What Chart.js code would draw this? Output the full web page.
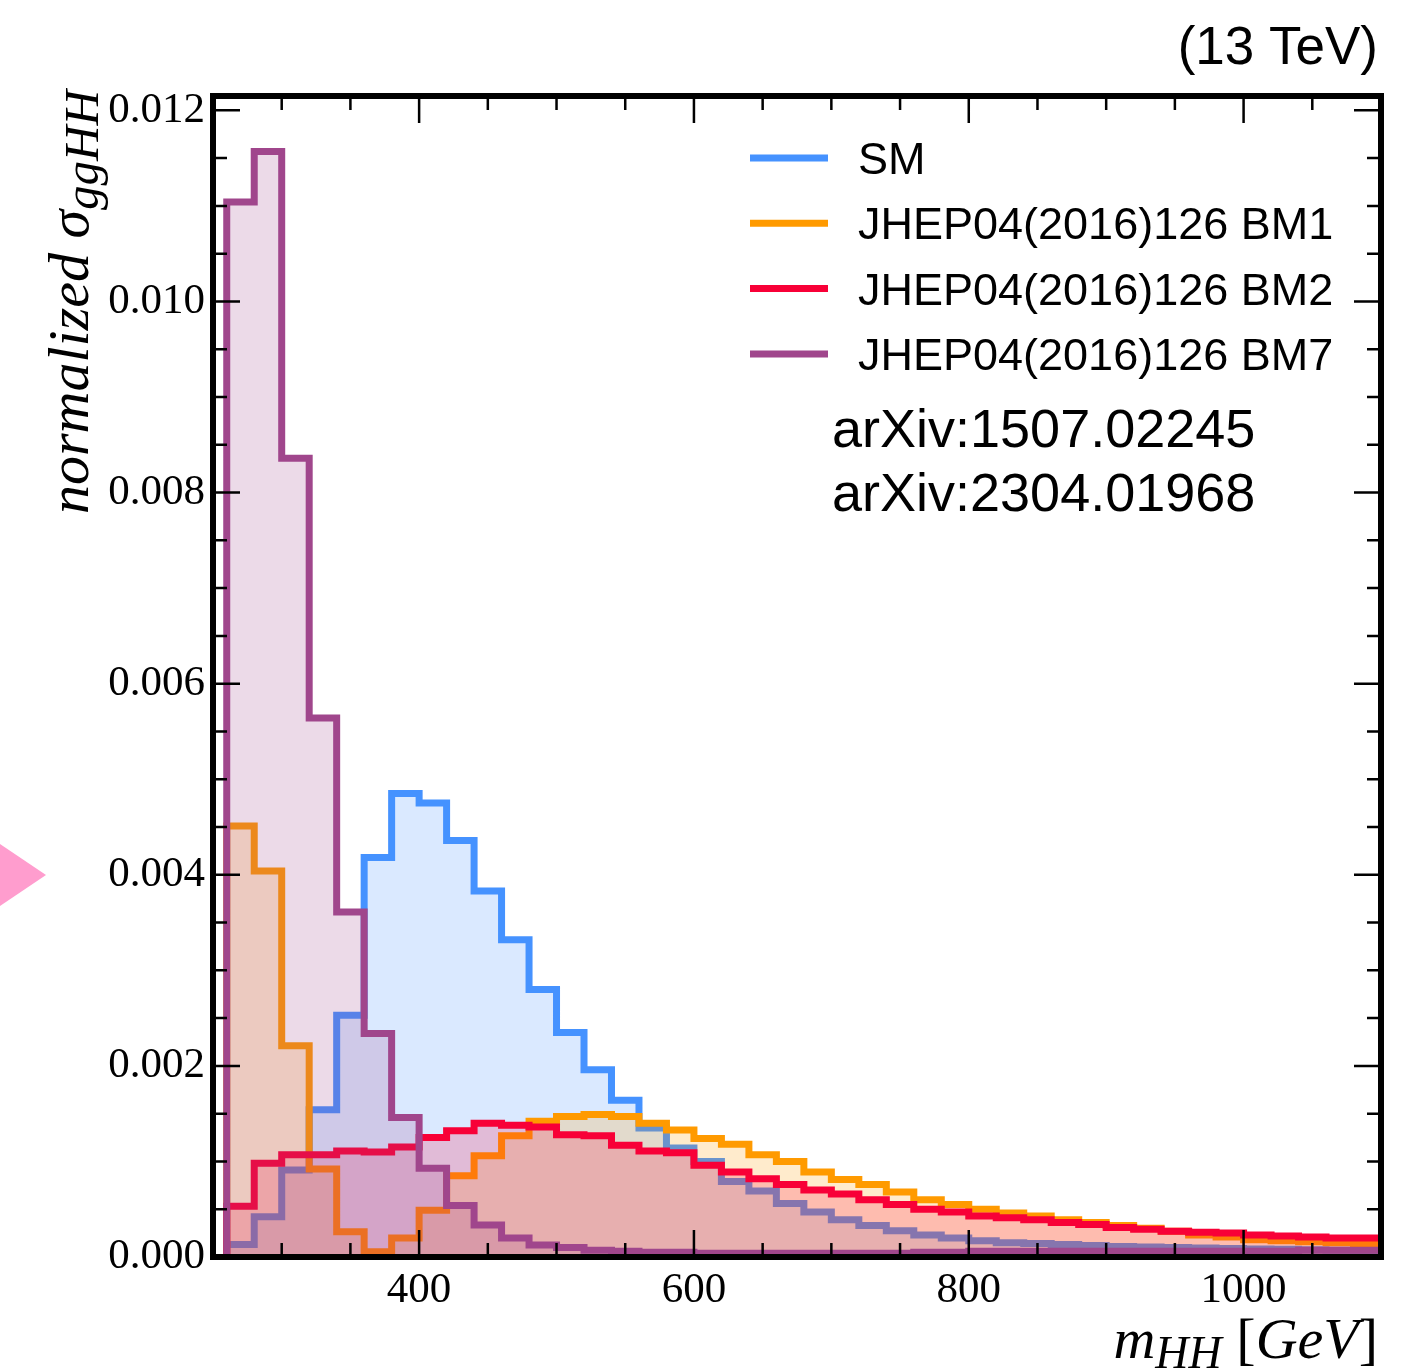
<!DOCTYPE html>
<html>
<head>
<meta charset="utf-8">
<title>Normalized gg→HH mass distributions</title>
<script src="https://cdn.jsdelivr.net/npm/chart.js@4.4.1/dist/chart.umd.min.js"></script>
<style>
  html, body { margin: 0; padding: 0; background: #ffffff; }
  canvas { display: block; }
</style>
</head>
<body>
<canvas id="mhh" width="1404" height="1370"></canvas>
<script>
// Histogram bin edges in m_HH [GeV] (20 GeV bins)
const binEdges = [260, 280, 300, 320, 340, 360, 380, 400, 420, 440, 460, 480, 500, 520, 540,
  560, 580, 600, 620, 640, 660, 680, 700, 720, 740, 760, 780, 800, 820, 840, 860, 880, 900,
  920, 940, 960, 980, 1000, 1020, 1040, 1060, 1080, 1100];

// Normalized cross section per bin
const smValues = [0.00013, 0.00042, 0.00091, 0.00154, 0.00253, 0.00418, 0.00485, 0.00475, 0.00436, 0.00383,
  0.00332, 0.00280, 0.00235, 0.00196, 0.00164, 0.00135, 0.00114, 0.00100, 0.00079, 0.00069,
  0.00056, 0.00047, 0.00039, 0.00033, 0.000275, 0.00023, 0.00020, 0.00017, 0.00015, 0.00014,
  0.00013, 0.00012, 0.00011, 0.000105, 0.00010, 0.000095, 0.00009, 0.000085, 0.00008, 0.000075,
  0.00007, 0.000065];

const bm1Values = [0.00451, 0.00404, 0.00221, 0.00092, 0.000265, 0.000055, 0.00020, 0.00049, 0.00085, 0.00106,
  0.00127, 0.00142, 0.00147, 0.00149, 0.00147, 0.00140, 0.00133, 0.00124, 0.00118, 0.00107,
  0.00100, 0.00089, 0.00081, 0.00076, 0.00068, 0.00060, 0.00055, 0.00050, 0.00046, 0.00043,
  0.00039, 0.00036, 0.00033, 0.00030, 0.00027, 0.00023, 0.00021, 0.00018, 0.00017, 0.00016,
  0.00015, 0.00014];

const bm2Values = [0.00053, 0.00098, 0.00107, 0.00107, 0.00111, 0.00110, 0.00115, 0.00125, 0.00132, 0.00140,
  0.00138, 0.00136, 0.00128, 0.00127, 0.00117, 0.00111, 0.00109, 0.00096, 0.00089, 0.00082,
  0.00076, 0.00070, 0.00066, 0.00060, 0.00055, 0.00050, 0.00047, 0.00043, 0.00041, 0.00039,
  0.00036, 0.00034, 0.00031, 0.00029, 0.00027, 0.00026, 0.00025, 0.00023, 0.00022, 0.00021,
  0.00020, 0.00020];

const bm7Values = [0.01104, 0.01157, 0.00836, 0.00564, 0.00361, 0.00234, 0.00146, 0.00093, 0.00054, 0.000335,
  0.00020, 0.000125, 0.00010, 0.00007, 0.00006, 0.00005, 0.00005, 0.00004, 0.00004, 0.00004,
  0.00004, 0.00004, 0.00004, 0.00004, 0.00004, 0.00005, 0.00005, 0.00006, 0.00006, 0.00006,
  0.00006, 0.00006, 0.00006, 0.00006, 0.00006, 0.00006, 0.00006, 0.00006, 0.00006, 0.00007,
  0.00007, 0.00007];

const seriesLabels = ['SM', 'JHEP04(2016)126 BM1', 'JHEP04(2016)126 BM2', 'JHEP04(2016)126 BM7'];
const xTickValues = [400, 600, 800, 1000];
const yTickValues = [0, 0.002, 0.004, 0.006, 0.008, 0.010, 0.012];
const referenceLines = ['arXiv:1507.02245', 'arXiv:2304.01968'];
const energyLabel = '(13 TeV)';

const xRange = [250, 1100];
const yRange = [0, 0.01215];
const xMinorStep = 50;
const yMinorStep = 0.0005;

const lineColors = ['#4592FF', '#FF9A00', '#F80037', '#A0468C'];

function withAlpha(hex, a) {
  const n = parseInt(hex.slice(1), 16);
  return `rgba(${(n >> 16) & 255},${(n >> 8) & 255},${n & 255},${a})`;
}

// Outline of a filled step histogram: rise at the first edge, flat across each bin
function stepPoints(values) {
  const pts = [{ x: binEdges[0], y: 0 }];
  values.forEach((v, i) => {
    pts.push({ x: binEdges[i], y: v });
    pts.push({ x: binEdges[i + 1], y: v });
  });
  return pts;
}

function histDataset(idx, values) {
  return {
    label: seriesLabels[idx],
    data: stepPoints(values),
    // SM underneath, BM7 on top
    order: 3 - idx,
    borderColor: lineColors[idx],
    backgroundColor: withAlpha(lineColors[idx], 0.2),
    borderWidth: 7,
    borderJoinStyle: 'miter',
    borderCapStyle: 'butt',
    fill: 'origin',
    pointRadius: 0,
    pointHoverRadius: 0,
    tension: 0
  };
}

// Inward ticks on all four sides plus a heavy frame
const axisFrame = {
  id: 'axisFrame',
  afterDatasetsDraw(chart) {
    const { ctx, chartArea: a, scales: { x, y } } = chart;
    ctx.save();
    ctx.strokeStyle = '#000';
    ctx.lineWidth = 2.5;
    ctx.beginPath();
    const nx = Math.round((x.max - x.min) / xMinorStep);
    for (let k = 1; k < nx; k++) {
      const v = x.min + k * xMinorStep;
      const px = x.getPixelForValue(v);
      const len = xTickValues.includes(v) ? 27 : 14;
      ctx.moveTo(px, a.bottom); ctx.lineTo(px, a.bottom - len);
      ctx.moveTo(px, a.top); ctx.lineTo(px, a.top + len);
    }
    for (let k = 1; k * yMinorStep < y.max - 1e-9; k++) {
      const py = y.getPixelForValue(k * yMinorStep);
      const len = k % 4 === 0 ? 27 : 14;
      ctx.moveTo(a.left, py); ctx.lineTo(a.left + len, py);
      ctx.moveTo(a.right, py); ctx.lineTo(a.right - len, py);
    }
    ctx.stroke();
    ctx.lineWidth = 6;
    ctx.strokeRect(a.left, a.top, a.right - a.left, a.bottom - a.top);
    ctx.restore();
  }
};

function runFont(r) {
  return `${r.italic ? 'italic ' : ''}${r.size}px "Liberation Serif", "DejaVu Serif", serif`;
}
function runsWidth(ctx, runs) {
  let w = 0;
  runs.forEach(r => { ctx.font = runFont(r); w += ctx.measureText(r.text).width; });
  return w;
}
function drawRuns(ctx, runs, x, y) {
  let cx = x;
  runs.forEach(r => {
    ctx.font = runFont(r);
    ctx.fillText(r.text, cx, y + (r.dy || 0));
    cx += ctx.measureText(r.text).width;
  });
}

const yTitleRuns = [
  { text: 'normalized σ', italic: true, size: 58 },
  { text: 'ggHH', italic: true, size: 49, dy: 10 }
];
const xTitleRuns = [
  { text: 'm', italic: true, size: 58 },
  { text: 'HH', italic: true, size: 46, dy: 10 },
  { text: ' [', italic: false, size: 58 },
  { text: 'GeV', italic: true, size: 58 },
  { text: ']', italic: false, size: 58 }
];

// Legend, references, energy label, axis titles and the side marker
const annotations = {
  id: 'annotations',
  afterDraw(chart) {
    const { ctx } = chart;
    ctx.save();
    ctx.fillStyle = '#000';
    ctx.textBaseline = 'alphabetic';

    ctx.textAlign = 'right';
    ctx.font = '53px "Liberation Sans", Arial, sans-serif';
    ctx.fillText(energyLabel, 1378, 64);

    ctx.textAlign = 'left';
    const rowStep = 65.3;
    chart.data.datasets.forEach((ds, i) => {
      const yc = 158 + rowStep * i;
      ctx.strokeStyle = ds.borderColor;
      ctx.lineWidth = 7;
      ctx.beginPath();
      ctx.moveTo(750, yc);
      ctx.lineTo(828, yc);
      ctx.stroke();
      ctx.font = '45px "Liberation Sans", Arial, sans-serif';
      ctx.fillText(ds.label, 858, yc + 16);
    });

    ctx.font = '54px "Liberation Sans", Arial, sans-serif';
    referenceLines.forEach((t, i) => ctx.fillText(t, 832, 447 + 64 * i));

    // x-axis title, right-aligned to the frame
    const xw = runsWidth(ctx, xTitleRuns);
    drawRuns(ctx, xTitleRuns, 1378 - xw, 1358);

    // y-axis title, reading upward and ending near the top
    ctx.save();
    ctx.translate(88, 514);
    ctx.rotate(-Math.PI / 2);
    drawRuns(ctx, yTitleRuns, 0, 0);
    ctx.restore();

    // pink side marker
    ctx.fillStyle = '#FF9DCE';
    ctx.beginPath();
    ctx.moveTo(0, 844);
    ctx.lineTo(46, 875);
    ctx.lineTo(0, 906);
    ctx.closePath();
    ctx.fill();

    ctx.restore();
  }
};

const tickFont = { family: '"Liberation Serif", "DejaVu Serif", serif', size: 43 };

new Chart(document.getElementById('mhh').getContext('2d'), {
  type: 'line',
  data: {
    datasets: [
      histDataset(0, smValues),
      histDataset(1, bm1Values),
      histDataset(2, bm2Values),
      histDataset(3, bm7Values)
    ]
  },
  options: {
    responsive: false,
    animation: false,
    devicePixelRatio: 1,
    events: [],
    layout: { padding: { top: 96, right: 23, bottom: 0, left: 0 } },
    plugins: { legend: { display: false }, tooltip: { enabled: false } },
    scales: {
      x: {
        type: 'linear',
        min: xRange[0],
        max: xRange[1],
        grid: { display: false, drawTicks: false },
        border: { display: false },
        afterBuildTicks: s => { s.ticks = xTickValues.map(v => ({ value: v })); },
        afterFit: s => { s.height = 113; },
        ticks: {
          font: tickFont, color: '#000', padding: 8,
          maxRotation: 0, autoSkip: false,
          callback: v => String(v)
        }
      },
      y: {
        type: 'linear',
        min: yRange[0],
        max: yRange[1],
        grid: { display: false, drawTicks: false },
        border: { display: false },
        afterBuildTicks: s => { s.ticks = yTickValues.map(v => ({ value: v })); },
        afterFit: s => { s.width = 213; },
        ticks: {
          font: tickFont, color: '#000', padding: 8,
          autoSkip: false,
          callback: v => Number(v).toFixed(3)
        }
      }
    }
  },
  plugins: [axisFrame, annotations]
});
</script>
</body>
</html>
